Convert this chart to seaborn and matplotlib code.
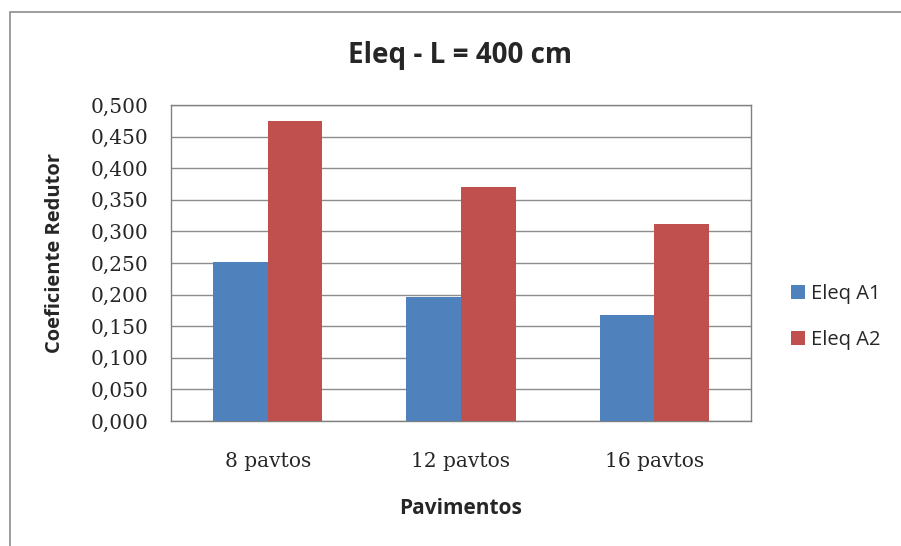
import pandas as pd
import matplotlib
matplotlib.use("Agg")
import matplotlib.pyplot as plt
from matplotlib.patches import Rectangle
from matplotlib.ticker import FixedLocator
import seaborn as sns

# Chart data
categories = ["8 pavtos", "12 pavtos", "16 pavtos"]
series_names = ["Eleq A1", "Eleq A2"]
eleq_a1 = [0.251, 0.196, 0.167]
eleq_a2 = [0.474, 0.371, 0.311]
y_ticks = [0.0, 0.05, 0.10, 0.15, 0.20, 0.25, 0.30, 0.35, 0.40, 0.45, 0.50]

df = pd.DataFrame({
    "Pavimentos": categories * 2,
    "Serie": [series_names[0]] * 3 + [series_names[1]] * 3,
    "Valor": eleq_a1 + eleq_a2,
})

sns.set_style("white")
plt.rcParams["font.family"] = ["Open Sans", "DejaVu Sans"]

fig = plt.figure(figsize=(9.01, 5.46), dpi=100)
W, H = 901, 546
# plot area in pixels: left 171, right 751, top 105, bottom 421
ax = fig.add_axes([171 / W, 1 - 421 / H, (751 - 171) / W, (421 - 105) / H])

# outer chart frame
fig.patches.append(Rectangle((10 / W, -0.05), 1.0, 1 - 12 / H + 0.05,
                             transform=fig.transFigure, fill=False,
                             edgecolor="#8c8c8c", linewidth=1.2))

sns.barplot(data=df, x="Pavimentos", y="Valor", hue="Serie", ax=ax,
            palette=["#4F81BD", "#C0504D"], width=0.565, saturation=1,
            edgecolor="none", zorder=3)

ax.set_ylim(0, 0.5)
ax.set_xlim(-0.5, 2.5)
ax.set_yticks(y_ticks)
ax.set_yticklabels([f"{v:.3f}".replace(".", ",") for v in y_ticks],
                   family=["DejaVu Serif"], fontsize=14.5)
ax.set_xticks(range(3))
ax.set_xticklabels(categories, family=["DejaVu Serif"], fontsize=14.5)
ax.tick_params(axis="x", length=0, pad=22)
ax.xaxis.set_minor_locator(FixedLocator([-0.5, 0.5, 1.5, 2.5]))
ax.tick_params(axis="x", which="minor", length=6.5, color="#808080", width=1)
ax.tick_params(axis="y", length=10, color="#808080", width=1, pad=6.5, direction="out")
ax.yaxis.grid(True, color="#8c8c8c", linewidth=1, zorder=0)
ax.set_axisbelow(True)

for side in ["left", "right", "top", "bottom"]:
    ax.spines[side].set_visible(True)
    ax.spines[side].set_color("#808080")
    ax.spines[side].set_linewidth(1)

ax.set_xlabel("Pavimentos", fontsize=15, fontweight="bold", va="center")
ax.xaxis.set_label_coords(0.5, (421 - 509) / 316)
ax.set_ylabel("Coeficiente Redutor", fontsize=14.5, fontweight="bold", va="center")
ax.yaxis.set_label_coords((55 - 171) / 580, (421 - 253) / 316)
fig.text(460 / W, 1 - 55 / H, "Eleq - L = 400 cm", ha="center", va="center",
         fontsize=20, fontweight="bold")

leg = ax.legend(loc="center left", bbox_to_anchor=(783 / W, 1 - 317 / H),
                bbox_transform=fig.transFigure, borderaxespad=0, frameon=False,
                fontsize=14.5, handlelength=0.7, handleheight=0.7,
                handletextpad=0.3, labelspacing=1.3, title=None)

fig.savefig("out.png", dpi=100, facecolor="white")
